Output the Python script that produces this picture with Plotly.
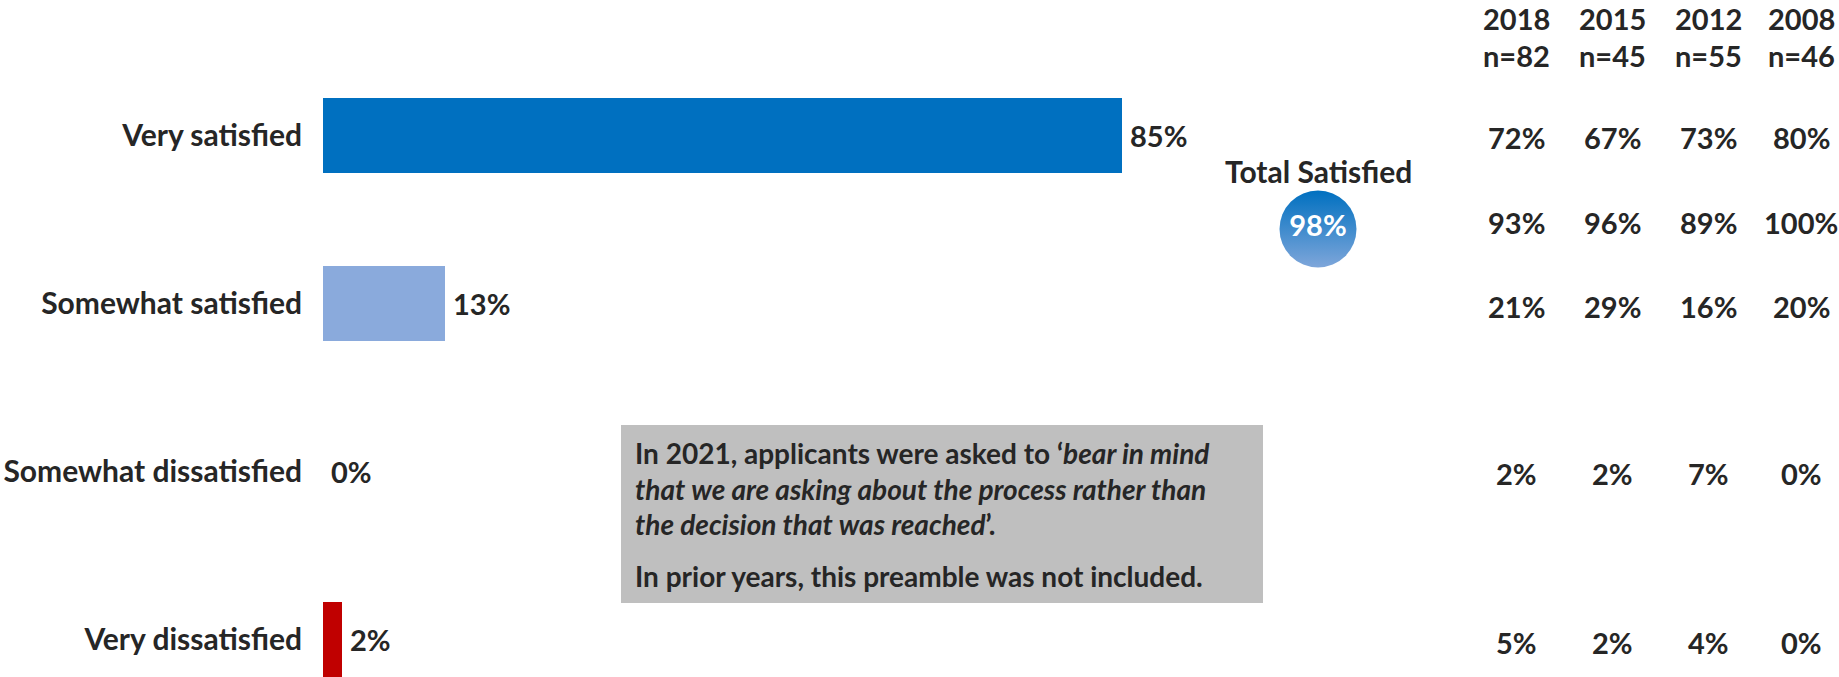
import plotly.graph_objects as go

# ---------------- data ----------------
categories = ["Very satisfied", "Somewhat satisfied", "Somewhat dissatisfied", "Very dissatisfied"]
values_2021 = [85, 13, 0, 2]
bar_colors = ["#0070C0", "#8AAADC", "#F4B183", "#C00000"]

total_satisfied_label = "Total Satisfied"
total_satisfied_2021 = 98

years = ["2018", "2015", "2012", "2008"]
sample_sizes = [82, 45, 55, 46]
hist_very_satisfied = [72, 67, 73, 80]
hist_total_satisfied = [93, 96, 89, 100]
hist_somewhat_satisfied = [21, 29, 16, 20]
hist_somewhat_dissatisfied = [2, 2, 7, 0]
hist_very_dissatisfied = [5, 2, 4, 0]

note_lines = [
    "<b>In 2021, applicants were asked to \u2018<i>bear in mind</i></b>",
    "<b><i>that we are asking about the process rather than</i></b>",
    "<b><i>the decision that was reached</i>\u2019.</b>",
    "<b>In prior years, this preamble was not included.</b>",
]

# ---------------- layout constants ----------------
W, H = 1839, 677
L = 323
PX_PER_PCT = 9.4
ROW_PX = 168.0
ROW0_PX = 135.3
FONT = "Lato"
TXT = "#262626"
FS_LABEL = 30
FS_NUM = 29
FS_NOTE = 28

x_max = (W - L) / PX_PER_PCT
y_top = -ROW0_PX / ROW_PX
y_bot = y_top + H / ROW_PX


def px_to_paper_x(px):
    return (px - L) / (W - L)


def px_to_paper_y(py):
    return 1 - py / H


def py_to_data(py):
    return (py - ROW0_PX) / ROW_PX


def px_to_data_x(px):
    return (px - L) / PX_PER_PCT


fig = go.Figure()

fig.add_trace(go.Bar(
    orientation="h",
    x=values_2021,
    y=list(range(len(categories))),
    width=75 / ROW_PX,
    marker=dict(color=bar_colors, line=dict(width=0)),
    hoverinfo="skip",
))

# Total satisfied bubble
fig.add_trace(go.Scatter(
    x=[px_to_data_x(1318)],
    y=[py_to_data(229)],
    mode="markers+text",
    marker=dict(size=77, color="#0070C0",
                gradient=dict(type="vertical", color="#7EA6DA"),
                line=dict(width=0)),
    text=[f"{total_satisfied_2021}%"],
    textposition="middle center",
    textfont=dict(family=FONT, size=FS_NUM, color="white", weight="bold"),
    hoverinfo="skip",
))

annotations = []

# bar value labels
for i, v in enumerate(values_2021):
    annotations.append(dict(
        x=v, y=i, xref="x", yref="y", text=f"{v}%", showarrow=False,
        xanchor="left", yanchor="middle", xshift=6,
        font=dict(family=FONT, size=FS_NUM, color=TXT, weight="bold")))

# Total satisfied title
annotations.append(dict(
    x=px_to_paper_x(1318), y=px_to_paper_y(171), xref="paper", yref="paper",
    text=total_satisfied_label, showarrow=False, xanchor="center", yanchor="middle",
    font=dict(family=FONT, size=FS_LABEL, color=TXT, weight="bold")))

# historical table
col_px = [1516, 1612, 1708, 1801]
rows = [
    (hist_very_satisfied, 137.5),
    (hist_total_satisfied, 222.5),
    (hist_somewhat_satisfied, 306),
    (hist_somewhat_dissatisfied, 473),
    (hist_very_dissatisfied, 642),
]
for j, cx in enumerate(col_px):
    for txt, py in ((years[j], 18.5), (f"n={sample_sizes[j]}", 55)):
        annotations.append(dict(
            x=px_to_paper_x(cx), y=px_to_paper_y(py), xref="paper", yref="paper",
            text=txt, showarrow=False, xanchor="center", yanchor="middle",
            font=dict(family=FONT, size=FS_NUM, color=TXT, weight="bold")))
    for vals, py in rows:
        annotations.append(dict(
            x=px_to_paper_x(cx), y=px_to_paper_y(py), xref="paper", yref="paper",
            text=f"{vals[j]}%", showarrow=False, xanchor="center", yanchor="middle",
            font=dict(family=FONT, size=FS_NUM, color=TXT, weight="bold")))

# note box
note_y = [453, 489, 524, 576]
for line, py in zip(note_lines, note_y):
    annotations.append(dict(
        x=px_to_paper_x(633), y=px_to_paper_y(py), xref="paper", yref="paper",
        text=line, showarrow=False, xanchor="left", yanchor="middle", align="left",
        font=dict(family=FONT, size=FS_NOTE, color=TXT)))

shapes = [dict(
    type="rect", xref="paper", yref="paper",
    x0=px_to_paper_x(621), x1=px_to_paper_x(1263),
    y0=px_to_paper_y(603), y1=px_to_paper_y(425),
    fillcolor="#BFBFBF", line=dict(width=0), layer="below")]

fig.update_layout(
    width=W, height=H,
    margin=dict(l=L, r=0, t=0, b=0, pad=0),
    paper_bgcolor="white", plot_bgcolor="white",
    showlegend=False,
    bargap=0,
    xaxis=dict(range=[0, x_max], visible=False, fixedrange=True),
    yaxis=dict(range=[y_bot, y_top], tickvals=list(range(len(categories))),
               ticktext=categories, showgrid=False, zeroline=False, showline=False,
               ticks="", ticklabelstandoff=20,
               tickfont=dict(family=FONT, size=FS_LABEL, color=TXT, weight="bold"),
               fixedrange=True),
    annotations=annotations,
    shapes=shapes,
)

fig.write_html("out.html",
               config={"displayModeBar": False},
               post_script="document.body.style.margin='0';document.body.style.overflow='hidden';")
